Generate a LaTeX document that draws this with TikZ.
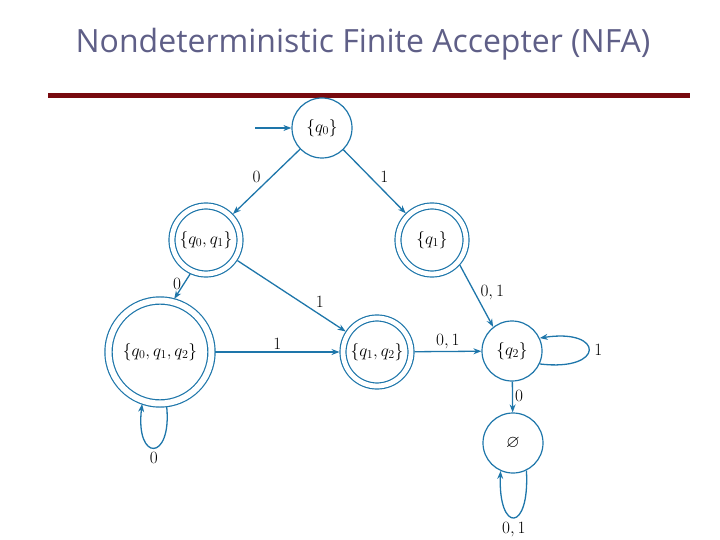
\documentclass[tikz,border=0pt]{standalone}
\usepackage{amssymb}
\usepackage{fontspec}
\newfontfamily\titlefont{Open Sans}
\usetikzlibrary{arrows.meta}
\definecolor{edgeblue}{RGB}{30,118,170}
\definecolor{titlegray}{RGB}{95,95,135}
\definecolor{rulered}{RGB}{120,10,15}
\begin{document}
\begin{tikzpicture}[x=1pt,y=-1pt,
  st/.style={circle,draw=edgeblue,line width=1.2pt,minimum size=60pt,inner sep=0pt,
    font=\fontsize{17.5}{20}\selectfont},
  acc/.style={st,double=white,double distance=4.8pt,minimum size=68pt,outer sep=3.5pt},
  lab/.style={font=\fontsize{18}{21}\selectfont,inner sep=2pt},
  edge/.style={draw=edgeblue,line width=1.3pt,-{Stealth[length=8pt,width=6pt]}}]
\useasboundingbox (0,0) rectangle (720,540);
\node[font=\titlefont\fontsize{32}{38}\selectfont,text=titlegray] (title) at (363,44) {Nondeterministic Finite Accepter (NFA)};
\draw[rulered,line width=5pt] (48,96) coordinate (r1) -- (690,96) coordinate (r2);

\node[st] (q0) at (322,128) {$\{q_0\}$};
\node[acc] (q01) at (206,240) {$\{q_0,q_1\}$};
\node[acc] (q1) at (432,240) {$\{q_1\}$};
\node[acc,minimum size=103pt,double distance=6pt] (q012) at (160,352) {$\{q_0,q_1,q_2\}$};
\node[acc] (q12) at (377,352) {$\{q_1,q_2\}$};
\node[st] (q2) at (512,351) {$\{q_2\}$};
\node[st] (e) at (513,443) {$\varnothing$};

\coordinate (init) at (255,128);
\draw[edge] (init) -- (q0);
\draw[edge] (q0) -- node[lab,pos=0.55,above left] {$0$} (q01);
\draw[edge] (q0) -- node[lab,pos=0.55,above right] {$1$} (q1);
\draw[edge] (q01.-115) -- node[lab,pos=0.4,left] {$0$} (q012.75);
\draw[edge] (q01) -- node[lab,pos=0.7,above right] {$1$} (q12);
\draw[edge] (q1.-42) .. controls (476,295) .. node[lab,pos=0.45,right=3pt] {$0,1$} (q2.128);
\draw[edge] (q012) -- node[lab,above] {$1$} (q12);
\draw[edge] (q12) -- node[lab,above] {$0,1$} (q2);
\draw[edge] (q2) -- node[lab,right,pos=0.45] {$0$} (e);
\draw[edge] (q2.-25) .. controls (605,372) and (605,328) .. node[lab,right=3pt] {$1$} (q2.25);
\draw[edge] (q012.-83) .. controls (172,462) and (135,462) .. node[lab,below=2pt] {$0$} (q012.-109);
\draw[edge] (e.-64) .. controls (530,533) and (498,533) .. node[lab,below=2pt] {$0,1$} (e.-114);
\end{tikzpicture}
\end{document}
